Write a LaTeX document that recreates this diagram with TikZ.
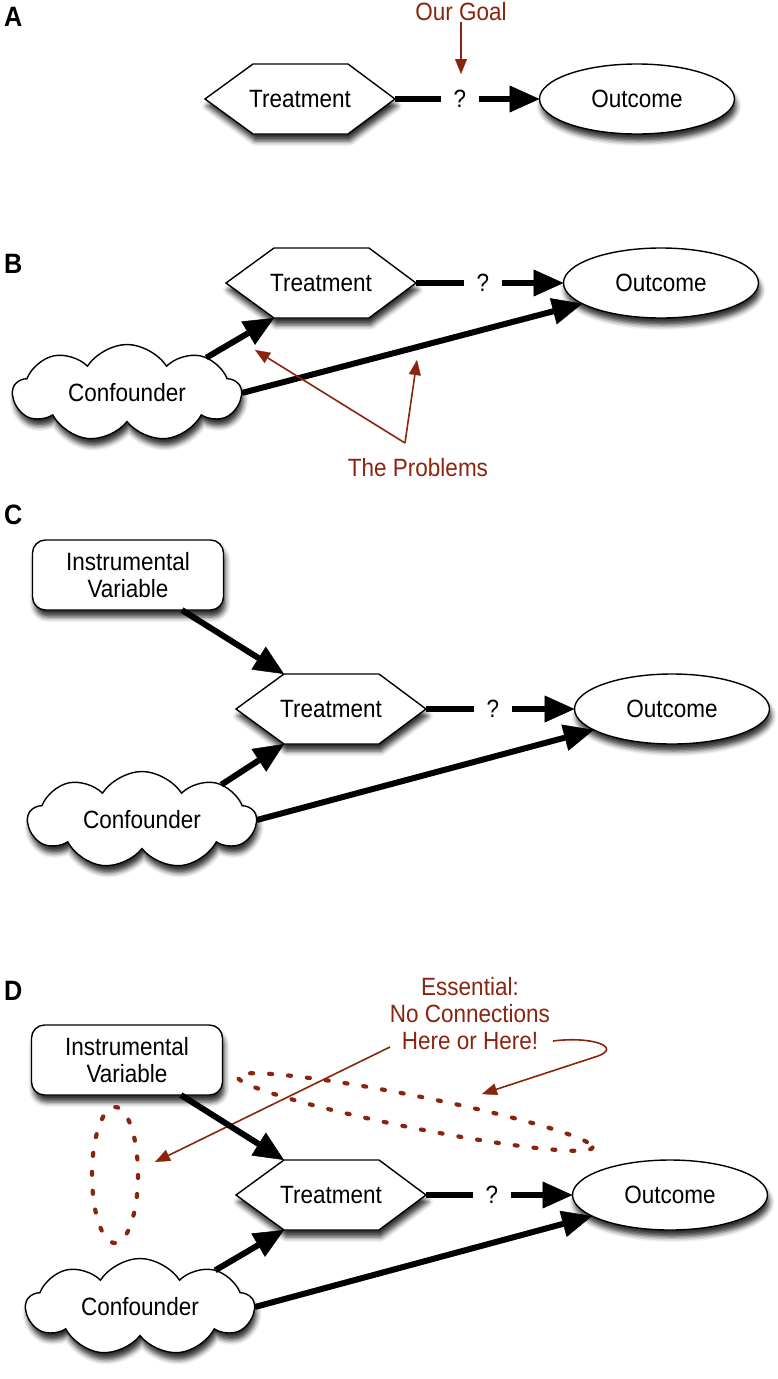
\documentclass[tikz,border=0pt]{standalone}
\usepackage{fontspec}
\setmainfont{Liberation Sans}[FakeStretch=0.9]
\usetikzlibrary{shapes.geometric,shapes.symbols,arrows.meta,calc,shadows.blur}
\definecolor{note}{RGB}{138,36,14}
\tikzset{
 lbl/.style={font=\fontsize{25}{27}\selectfont},
 shshadow/.style={blur shadow={shadow xshift=2pt, shadow yshift=-7pt, shadow blur radius=5pt, shadow opacity=80}},
 hexbox/.style={lbl, minimum width=190pt, minimum height=70pt, inner sep=0pt, outer sep=0pt},
 hexshape/.style={draw=black, line width=1.4pt, fill=white, line join=miter, shshadow},
 outnode/.style={lbl, ellipse, draw, line width=1.4pt, fill=white, minimum width=195pt, minimum height=70pt, inner sep=0pt, outer sep=0pt, shshadow},
 confnode/.style={lbl, cloud, cloud puffs=9, cloud puff arc=115, aspect=2.4, draw, line width=1.4pt, fill=white, minimum width=228pt, minimum height=97pt, inner sep=0pt, outer sep=0pt, shshadow},
 ivnode/.style={lbl, rectangle, rounded corners=13pt, draw, line width=1.4pt, fill=white, minimum width=191pt, minimum height=70pt, align=center, inner sep=0pt, outer sep=0pt, shshadow},
 qnode/.style={lbl, minimum width=38pt, inner sep=0pt, outer sep=0pt},
 bigarrow/.style={line width=6pt, -{Triangle[length=30pt,width=27pt,line width=0.5pt,fill=black]}},
 bigline/.style={line width=6pt},
 notetext/.style={lbl, text=note, align=center, inner sep=1pt},
 notearrow/.style={draw=note, line width=1.6pt, -{Triangle[length=15pt,width=12pt,line width=0.3pt,fill=note]}},
 dotring/.style={draw=note, line width=4.2pt, line cap=round, dash pattern=on 3pt off 16pt},
 panel/.style={font=\fontsize{28}{30}\selectfont\bfseries, anchor=west, inner sep=0pt},
}
% hexagon node: name, x, y, text
\newcommand{\hexnode}[4]{%
  \path[hexshape] ({#2-95},#3) -- ({#2-47},{#3-35}) -- ({#2+48},{#3-35}) -- ({#2+95},#3)
      -- ({#2+48},{#3+35}) -- ({#2-47},{#3+35}) -- cycle;
  \node[hexbox] (#1) at (#2,#3) {#4};
  \coordinate (#1-tl) at ({#2-47},{#3-35});
  \coordinate (#1-bl) at ({#2-47},{#3+35});
}
\begin{document}
\begin{tikzpicture}[x=1pt,y=-1pt]
\useasboundingbox (0,0) rectangle (777,1379);

% ---------------- Panel A ----------------
\node[panel] (lA) at (4,17) {A};
\hexnode{tA}{300}{99}{Treatment}
\node[qnode] (qA) at (460,99) {?};
\node[outnode] (oA) at (637,99) {Outcome};
\draw[bigline] (tA.east) -- (qA.west);
\draw[bigarrow] (qA.east) -- (oA.west);
\node[notetext] (gA) at (461,12) {Our Goal};
\coordinate (gAtip) at (461,74);
\draw[notearrow] (gA.south) -- (gAtip);

% ---------------- Panel B ----------------
\node[panel] (lB) at (4,264) {B};
\hexnode{tB}{321}{283}{Treatment}
\node[qnode] (qB) at (483,283) {?};
\node[outnode] (oB) at (661,283) {Outcome};
\node[confnode] (cB) at (127,393) {Confounder};
\node[notetext] (pB) at (418,468) {The Problems};
\coordinate (pBapex) at (405,443);
\coordinate (pBt1) at (255,350);
\coordinate (pBt2) at (417,360);
\draw[bigline] (tB.east) -- (qB.west);
\draw[bigarrow] (qB.east) -- (oB.west);
\draw[bigarrow] (cB.24) -- (tB-bl);
\draw[bigarrow] (cB.east) -- (oB);
\draw[notearrow] (pBapex) -- (pBt1);
\draw[notearrow] (pBapex) -- (pBt2);

% ---------------- Panel C ----------------
\node[panel] (lC) at (4,515) {C};
\node[ivnode] (ivC) at (128,575) {Instrumental\\Variable};
\hexnode{tC}{331}{709}{Treatment}
\node[qnode] (qC) at (493,709) {?};
\node[outnode] (oC) at (672,709) {Outcome};
\node[confnode] (cC) at (142,820) {Confounder};
\draw[bigarrow] (ivC.-33) -- (tC-tl);
\draw[bigline] (tC.east) -- (qC.west);
\draw[bigarrow] (qC.east) -- (oC.west);
\draw[bigarrow] (cC.24) -- (tC-bl);
\draw[bigarrow] (cC.east) -- (oC);

% ---------------- Panel D ----------------
\node[panel] (lD) at (4,991) {D};
\node[ivnode] (ivD) at (127,1060) {Instrumental\\Variable};
\hexnode{tD}{331}{1195}{Treatment}
\node[qnode] (qD) at (492,1195) {?};
\node[outnode] (oD) at (670,1195) {Outcome};
\node[confnode] (cD) at (140,1307) {Confounder};
\draw[dotring] (115,1175) ellipse [x radius=23, y radius=68];
\draw[dotring, rotate around={-11.3:(415,1112)}] (415,1112) ellipse [x radius=181, y radius=16];
\node[notetext] (eD) at (470,1014) {Essential:\\No Connections\\Here or Here!};
\coordinate (eDs1) at (390,1047);
\coordinate (eDt1) at (155,1162);
\coordinate (eDs2) at (553,1041);
\coordinate (eDt2) at (482,1094);
\draw[notearrow] (eDs1) -- (eDt1);
\draw[notearrow] (eDs2) .. controls (592,1036) and (622,1047) .. (598,1056) -- (eDt2);
\draw[bigarrow] (ivD.-33) -- (tD-tl);
\draw[bigline] (tD.east) -- (qD.west);
\draw[bigarrow] (qD.east) -- (oD.west);
\draw[bigarrow] (cD.26) -- (tD-bl);
\draw[bigarrow] (cD.east) -- (oD);
\end{tikzpicture}
\end{document}
